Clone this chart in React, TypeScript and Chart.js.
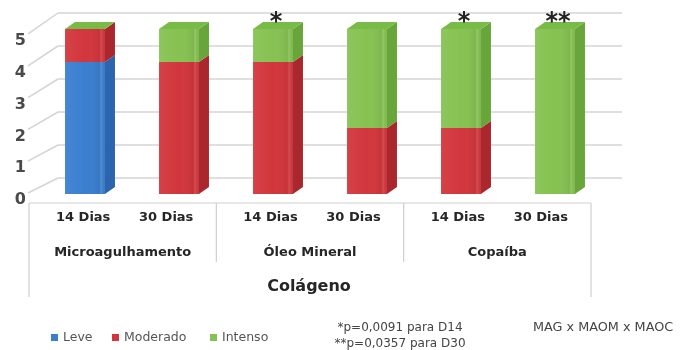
import React, { useEffect, useRef } from 'react';
import { Chart, registerables } from 'chart.js';
Chart.register(...registerables);

const categories = ['14 Dias', '30 Dias', '14 Dias', '30 Dias', '14 Dias', '30 Dias'];
const groups = ['Microagulhamento', 'Óleo Mineral', 'Copaíba'];
const seriesNames = ['Leve', 'Moderado', 'Intenso'];
const leve = [4, 0, 0, 0, 0, 0];
const moderado = [1, 4, 4, 2, 2, 0];
const intenso = [0, 1, 1, 3, 3, 5];
const marks = ['', '', '*', '', '*', '**'];
const yTicks = [0, 1, 2, 3, 4, 5];
const axisTitle = 'Colágeno';
const footnotes = ['*p=0,0091 para D14', '**p=0,0357 para D30'];
const comparison = 'MAG x MAOM x MAOC';

const frontColors = ['#3a7fd0', '#d2363c', '#86c252'];
const sideColors = ['#2c64ad', '#aa282d', '#68a53a'];
const topColors = ['#5a97dc', '#dc5358', '#78bb47'];

const FONT = '"DejaVu Sans", sans-serif';
const BAR_DX = 10;
const BAR_DY = 7;
const WALL_DX = 20;
const WALL_DY = 16;

const threeD = {
  id: 'threeD',
  beforeDatasetsDraw(chart: any) {
    const { ctx, chartArea } = chart;
    const y = chart.scales.y;
    const y0 = y.getPixelForValue(0);
    ctx.save();
    ctx.strokeStyle = '#d4d4d4';
    ctx.lineWidth = 1.5;
    yTicks.forEach((v) => {
      const py = y.getPixelForValue(v) - WALL_DY;
      ctx.beginPath();
      ctx.moveTo(chartArea.left + WALL_DX, py);
      ctx.lineTo(chartArea.right + WALL_DX, py);
      ctx.stroke();
    });
    ctx.fillStyle = '#4a4a4a';
    ctx.font = `bold 16px ${FONT}`;
    ctx.textAlign = 'right';
    ctx.textBaseline = 'middle';
    yTicks.forEach((v) => {
      const py = y.getPixelForValue(v);
      const fy = y0 + 5 + (py - y0) * 0.964;
      ctx.beginPath();
      ctx.moveTo(chartArea.left - 10, fy - 6);
      ctx.lineTo(chartArea.left + WALL_DX, py - WALL_DY);
      ctx.stroke();
      ctx.fillText(String(v), chartArea.left - 12, fy + 1);
    });
    const fx0 = chartArea.left - 9;
    const fx1 = chartArea.right - 11;
    const fy = y0 + 9;
    ctx.strokeStyle = '#cfcfcf';
    ctx.lineWidth = 1.2;
    ctx.beginPath();
    ctx.moveTo(fx0, fy);
    ctx.lineTo(fx1, fy);
    ctx.moveTo(fx0, fy);
    ctx.lineTo(fx0, fy + 94);
    ctx.moveTo(fx1, fy);
    ctx.lineTo(fx1, fy + 94);
    const gw = (fx1 - fx0) / groups.length;
    for (let g = 1; g < groups.length; g++) {
      ctx.moveTo(fx0 + gw * g, fy);
      ctx.lineTo(fx0 + gw * g, fy + 59);
    }
    ctx.stroke();
    ctx.fillStyle = '#262626';
    ctx.textAlign = 'center';
    ctx.font = `bold 13px ${FONT}`;
    const per = categories.length / groups.length;
    categories.forEach((c, i) => {
      const g = Math.floor(i / per);
      const k = i % per;
      const gc = fx0 + gw * (g + 0.5) + 2;
      ctx.fillText(c, gc + (k - (per - 1) / 2) * 83, fy + 15);
    });
    groups.forEach((g, i) => {
      ctx.fillText(g, fx0 + gw * (i + 0.5), fy + 50);
    });
    ctx.font = `bold 16px ${FONT}`;
    ctx.fillText(axisTitle, fx0 + (fx1 - fx0) / 2 - 1, fy + 84);
    ctx.restore();
  },
  afterDatasetsDraw(chart: any) {
    const { ctx } = chart;
    const n = chart.data.datasets.length;
    ctx.save();
    for (let d = 0; d < n; d++) {
      const meta = chart.getDatasetMeta(d);
      meta.data.forEach((el: any) => {
        const top = Math.min(el.y, el.base);
        const bot = Math.max(el.y, el.base);
        if (bot - top < 0.5) return;
        const l = el.x - el.width / 2;
        const r = el.x + el.width / 2;
        const g = ctx.createLinearGradient(l, 0, r, 0);
        g.addColorStop(0, 'rgba(255,255,255,0.06)');
        g.addColorStop(0.5, 'rgba(255,255,255,0)');
        g.addColorStop(0.85, 'rgba(0,0,0,0.06)');
        g.addColorStop(0.9, 'rgba(255,255,255,0.12)');
        g.addColorStop(1, 'rgba(0,0,0,0.05)');
        ctx.fillStyle = g;
        ctx.fillRect(l, top, r - l, bot - top);
        ctx.fillStyle = sideColors[d];
        ctx.beginPath();
        ctx.moveTo(r, top);
        ctx.lineTo(r + BAR_DX, top - BAR_DY);
        ctx.lineTo(r + BAR_DX, bot - BAR_DY);
        ctx.lineTo(r, bot);
        ctx.closePath();
        ctx.fill();
      });
    }
    const lastMeta = chart.getDatasetMeta(n - 1);
    lastMeta.data.forEach((el: any, i: number) => {
      const l = el.x - el.width / 2;
      const r = el.x + el.width / 2;
      const top = el.y;
      ctx.fillStyle = topColors[n - 1];
      ctx.beginPath();
      ctx.moveTo(l, top);
      ctx.lineTo(l + BAR_DX, top - BAR_DY);
      ctx.lineTo(r + BAR_DX, top - BAR_DY);
      ctx.lineTo(r, top);
      ctx.closePath();
      ctx.fill();
      if (marks[i]) {
        ctx.fillStyle = '#222';
        ctx.font = `bold 24px ${FONT}`;
        ctx.textAlign = 'center';
        ctx.textBaseline = 'alphabetic';
        ctx.fillText(marks[i], el.x + 3, top);
      }
    });
    ctx.restore();
  },
  afterDraw(chart: any) {
    const { ctx } = chart;
    ctx.save();
    ctx.font = `12.5px ${FONT}`;
    ctx.textBaseline = 'middle';
    ctx.textAlign = 'left';
    const legendX = [51, 112, 210];
    seriesNames.forEach((s, i) => {
      ctx.fillStyle = frontColors[i];
      ctx.fillRect(legendX[i], 334, 7, 7);
      ctx.fillStyle = '#555';
      ctx.fillText(s, legendX[i] + 12, 338);
    });
    ctx.font = `12px ${FONT}`;
    ctx.textAlign = 'center';
    ctx.fillStyle = '#444';
    ctx.fillText(footnotes[0], 400, 328);
    ctx.fillText(footnotes[1], 400, 344);
    ctx.textAlign = 'left';
    ctx.font = `12.8px ${FONT}`;
    ctx.fillText(comparison, 533, 328);
    ctx.restore();
  },
};

export default function App() {
  const ref = useRef<HTMLCanvasElement>(null);
  useEffect(() => {
    document.body.style.margin = '0';
    const chart = new Chart(ref.current as HTMLCanvasElement, {
      type: 'bar',
      data: {
        labels: categories,
        datasets: [
          { label: seriesNames[0], data: leve, backgroundColor: frontColors[0], borderWidth: 0 },
          { label: seriesNames[1], data: moderado, backgroundColor: frontColors[1], borderWidth: 0 },
          { label: seriesNames[2], data: intenso, backgroundColor: frontColors[2], borderWidth: 0 },
        ],
      },
      options: {
        responsive: false,
        animation: false,
        devicePixelRatio: 1,
        layout: { padding: { left: 38, right: 86, top: 29, bottom: 156 } },
        scales: {
          x: { display: false, stacked: true },
          y: { display: false, stacked: true, min: 0, max: 5 },
        },
        datasets: { bar: { categoryPercentage: 1, barPercentage: 0.425 } },
        plugins: { legend: { display: false }, tooltip: { enabled: false } },
      } as any,
      plugins: [threeD],
    });
    return () => chart.destroy();
  }, []);
  return (
    <div style={{ position: 'absolute', left: 0, top: 0, width: 688, height: 350, background: '#fff' }}>
      <canvas ref={ref} width={688} height={350} style={{ display: 'block' }} />
    </div>
  );
}
